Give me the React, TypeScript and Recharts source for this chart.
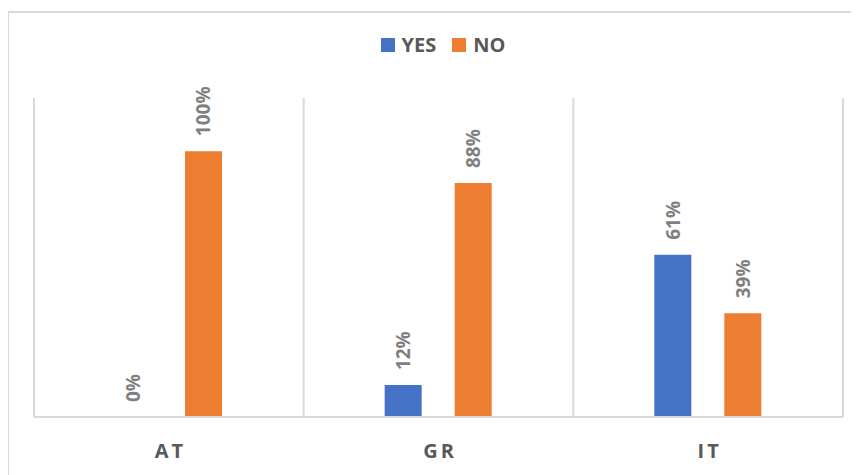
import React from 'react';
import { BarChart, Bar, XAxis, YAxis, CartesianGrid, Legend, LabelList } from 'recharts';

// Survey answers per country, in percent
const categories = ['AT', 'GR', 'IT'];
const yesValues = [0, 12, 61];
const noValues = [100, 88, 39];
const seriesNames = ['YES', 'NO'];
const seriesColors = ['#4472C4', '#ED7D31'];

const data = categories.map((c, i) => ({ category: c, yes: yesValues[i], no: noValues[i] }));

const FONT = '"Open Sans", "Noto Sans", sans-serif';
const GRID = '#d9d9d9';

const ValueLabel = (props: any) => {
  const { x, y, width, value } = props;
  const cx = Number(x) + Number(width) / 2;
  const ty = Number(y) - 15;
  return (
    <text
      x={cx}
      y={ty}
      transform={`rotate(-90, ${cx}, ${ty})`}
      textAnchor="start"
      dominantBaseline="central"
      fill="#7f7f7f"
      fontSize={19}
      fontWeight={700}
      fontFamily={FONT}
    >
      {`${value}%`}
    </text>
  );
};

const CategoryTick = (props: any) => {
  const { x, y, payload } = props;
  return (
    <text
      x={x + 1.5}
      y={y}
      dy={41}
      textAnchor="middle"
      fill="#595959"
      fontSize={20}
      fontWeight={700}
      fontFamily={FONT}
      letterSpacing={3}
    >
      {payload.value}
    </text>
  );
};

const LegendContent = () => (
  <div
    style={{
      height: 65,
      display: 'flex',
      justifyContent: 'center',
      alignItems: 'flex-start',
      paddingLeft: 9,
      fontFamily: FONT,
    }}
  >
    {seriesNames.map((name, i) => (
      <div
        key={name}
        style={{ display: 'flex', alignItems: 'center', height: 24, marginRight: i === 0 ? 16 : 0 }}
      >
        <div style={{ width: 14, height: 14, background: seriesColors[i], marginRight: 7 }} />
        <span style={{ fontSize: 20, fontWeight: 700, color: '#595959', lineHeight: '24px' }}>{name}</span>
      </div>
    ))}
  </div>
);

export default function App() {
  return (
    <div style={{ width: 851, height: 467, position: 'relative', background: '#fff' }}>
      <div style={{ position: 'absolute', top: 0, left: 0, zIndex: 0 }}>
        <BarChart
          width={851}
          height={467}
          data={data}
          margin={{ top: 25, right: 16, bottom: 8, left: 26 }}
          barSize={37}
          barGap={33}
        >
          <CartesianGrid
            horizontal={false}
            vertical
            stroke={GRID}
            strokeWidth={2}
            verticalCoordinatesGenerator={({ offset }: any) =>
              Array.from({ length: categories.length + 1 }, (_, i) => offset.left + (i * offset.width) / categories.length)
            }
          />
          <XAxis
            dataKey="category"
            height={50}
            axisLine={{ stroke: GRID, strokeWidth: 2 }}
            tickLine={false}
            tickSize={0}
            tickMargin={0}
            tick={<CategoryTick />}
            interval={0}
          />
          <YAxis hide domain={[0, 120]} />
          <Legend verticalAlign="top" content={<LegendContent />} />
          <Bar dataKey="yes" name={seriesNames[0]} fill={seriesColors[0]} minPointSize={0.01} isAnimationActive={false}>
            <LabelList dataKey="yes" content={<ValueLabel />} />
          </Bar>
          <Bar dataKey="no" name={seriesNames[1]} fill={seriesColors[1]} minPointSize={0.01} isAnimationActive={false}>
            <LabelList dataKey="no" content={<ValueLabel />} />
          </Bar>
        </BarChart>
      </div>
      {/* chart frame: only its top and left edges fall inside the view */}
      <div
        style={{
          position: 'absolute',
          top: 3,
          left: -1,
          width: 852,
          height: 464,
          borderTop: `2px solid ${GRID}`,
          borderLeft: `2px solid ${GRID}`,
          boxSizing: 'border-box',
          pointerEvents: 'none',
          zIndex: 1,
        }}
      />
    </div>
  );
}
